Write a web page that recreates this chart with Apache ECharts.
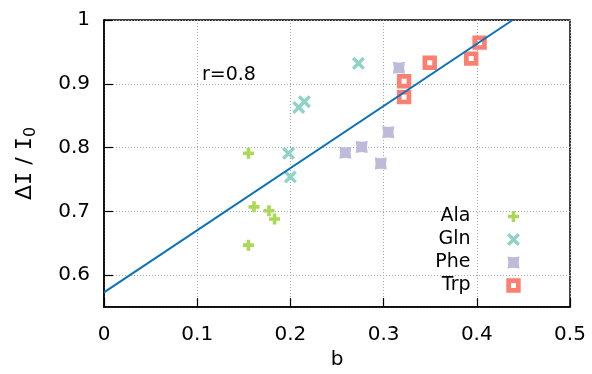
<!DOCTYPE html>
<html>
<head>
<meta charset="utf-8">
<script src="https://cdn.jsdelivr.net/npm/echarts@6/dist/echarts.min.js"></script>
<style>
html,body{margin:0;padding:0;background:#fff;}
#c{width:592px;height:374px;}
</style>
</head>
<body>
<div id="c"></div>
<script>
// ---- data ----
var alaB = [0.155, 0.161, 0.177, 0.183, 0.155];
var alaI = [0.791, 0.707, 0.701, 0.688, 0.647];
var glnB = [0.198, 0.200, 0.273, 0.209, 0.215];
var glnI = [0.791, 0.754, 0.932, 0.863, 0.872];
var pheB = [0.3165, 0.259, 0.2765, 0.305, 0.297];
var pheI = [0.925, 0.792, 0.801, 0.824, 0.775];
var trpB = [0.322, 0.322, 0.3495, 0.394, 0.403];
var trpI = [0.904, 0.879, 0.933, 0.9395, 0.9645];
var fitB = [0, 0.4385];
var fitI = [0.573, 1.0];
var seriesNames = ['Ala', 'Gln', 'Phe', 'Trp'];
var xTicks = [0, 0.1, 0.2, 0.3, 0.4, 0.5];
var yTicks = [0.6, 0.7, 0.8, 0.9, 1];
var annotation = 'r=0.8';

function pairs(a, b) { return a.map(function (v, i) { return [v, b[i]]; }); }

var FRAME = 'M0,0 M15,15 ';
var symPlus = 'path://' + FRAME + 'M5.7,2 H9.3 V5.7 H13 V9.3 H9.3 V13 H5.7 V9.3 H2 V5.7 H5.7 Z';
var symX = 'path://' + FRAME + 'M1,3.4 L3.4,1 L7.5,5.1 L11.6,1 L14,3.4 L9.9,7.5 L14,11.6 L11.6,14 L7.5,9.9 L3.4,14 L1,11.6 L5.1,7.5 Z';
var symBox = 'path://' + FRAME + 'M1.5,1.5 L7.5,2.3 L13.5,1.5 L12.7,7.5 L13.5,13.5 L7.5,12.7 L1.5,13.5 L2.3,7.5 Z';
var symOpen = 'path://' + FRAME + 'M0.3,0.3 H14.7 V14.7 H0.3 Z M5,5 V10 H10 V5 Z';

var colors = ['#abd856', '#8dd3c7', '#bebada', '#fb8072'];
var FONT = 'DejaVu Sans';

var chart = echarts.init(document.getElementById('c'), null, {renderer: 'canvas'});
chart.setOption({
  animation: false,
  backgroundColor: '#fff',
  grid: {left: 104, right: 22, top: 20, bottom: 67, show: true, borderColor: '#000', borderWidth: 1.5,
         backgroundColor: 'transparent', containLabel: false, outerBoundsMode: 'none'},
  xAxis: {
    type: 'value', min: xTicks[0], max: xTicks[xTicks.length - 1], interval: 0.1,
    name: 'b', nameLocation: 'middle', nameGap: 39,
    nameTextStyle: {fontFamily: FONT, fontSize: 20, color: '#000'},
    axisLine: {lineStyle: {color: '#000', width: 1.5}},
    axisTick: {inside: true, length: 9, lineStyle: {color: '#000', width: 1.2}},
    axisLabel: {fontFamily: FONT, fontSize: 20, color: '#000', margin: 18},
    splitLine: {show: true, lineStyle: {color: '#a8a8a8', width: 1, type: [1, 2]}}
  },
  yAxis: {
    type: 'value', min: 0.55, max: yTicks[yTicks.length - 1], splitNumber: 5,
    name: '{n|Δ}{i|I}{n| / }{i|I}{s|0}', nameLocation: 'middle', nameGap: 65, nameRotate: 90,
    nameTextStyle: {
      rich: {
        n: {fontFamily: FONT, fontSize: 22, color: '#000', lineHeight: 28},
        i: {fontFamily: 'DejaVu Sans Mono', fontSize: 22, color: '#000', lineHeight: 28},
        s: {fontFamily: FONT, fontSize: 16, color: '#000', lineHeight: 28, verticalAlign: 'bottom'}
      }
    },
    axisLine: {lineStyle: {color: '#000', width: 1.5}},
    axisTick: {inside: true, length: 9, lineStyle: {color: '#000', width: 1.2}},
    axisLabel: {fontFamily: FONT, fontSize: 20, color: '#000', margin: 14, showMinLabel: false},
    splitLine: {show: true, lineStyle: {color: '#a8a8a8', width: 1, type: [1, 2]}}
  },
  legend: {
    orient: 'vertical', right: 66, top: 202, align: 'right',
    itemWidth: 76, itemHeight: 15, itemGap: 4,
    textStyle: {fontFamily: FONT, fontSize: 19, color: '#000'},
    data: seriesNames
  },
  graphic: [{
    type: 'text', left: 202, top: 66,
    style: {text: annotation, font: '19px "DejaVu Sans"', fill: '#000'}
  }],
  series: [
    {name: seriesNames[0], type: 'scatter', data: pairs(alaB, alaI), symbol: symPlus, symbolSize: 15, itemStyle: {color: colors[0], opacity: 1}, z: 3},
    {name: seriesNames[1], type: 'scatter', data: pairs(glnB, glnI), symbol: symX, symbolSize: 15, itemStyle: {color: colors[1], opacity: 1}, z: 3},
    {name: seriesNames[2], type: 'scatter', data: pairs(pheB, pheI), symbol: symBox, symbolSize: 15, itemStyle: {color: colors[2], opacity: 1}, z: 3},
    {name: seriesNames[3], type: 'scatter', data: pairs(trpB, trpI), symbol: symOpen, symbolSize: 15, itemStyle: {color: colors[3], opacity: 1}, z: 3},
    {name: 'fit', type: 'line', data: pairs(fitB, fitI), showSymbol: false, symbol: 'none',
     lineStyle: {color: '#0a72b9', width: 2}, z: 4, silent: true}
  ]
});
</script>
</body>
</html>
